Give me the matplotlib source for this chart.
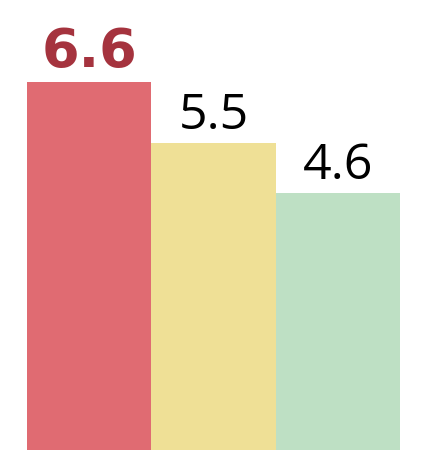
import matplotlib.pyplot as plt

values = [6.6, 5.5, 4.6]
labels = ['6.6', '5.5', '4.6']
colors = ['#E06B72', '#EFE096', '#BEE0C4']

fig = plt.figure(figsize=(4.24, 4.5), dpi=100)
ax = fig.add_axes([0, 0, 1, 1])
x = range(len(values))
ax.bar(x, values, width=1.0, color=colors)

ax.set_xlim(-0.5 - 27 / 124, 2.5 + 24 / 124)
ax.set_ylim(0, 8.07)
ax.axis('off')

for i, (v, lab) in enumerate(zip(values, labels)):
    if i == 0:
        ax.annotate(lab, (i, v), xytext=(0, 10.5), textcoords='offset points',
                    ha='center', va='baseline', fontsize=39, fontweight='heavy',
                    color='#A5333E', family='DejaVu Sans')
    else:
        ax.annotate(lab, (i, v), xytext=(0, 10.5), textcoords='offset points',
                    ha='center', va='baseline', fontsize=36,
                    color='black', family='Open Sans')

fig.savefig('out.png', dpi=100)
